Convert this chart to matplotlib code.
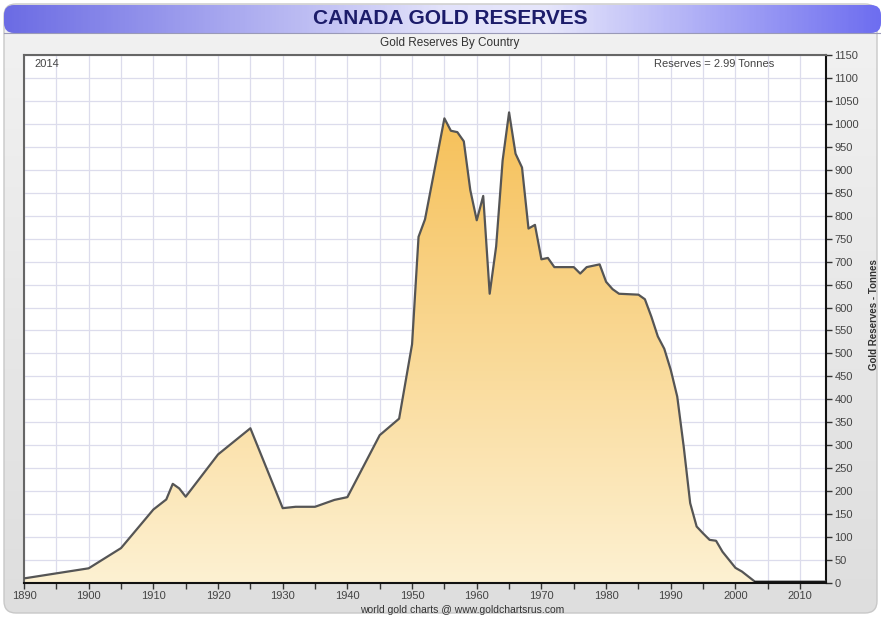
import numpy as np
import matplotlib
matplotlib.use("Agg")
import matplotlib.pyplot as plt
from matplotlib.colors import LinearSegmentedColormap
from matplotlib.patches import FancyBboxPatch, PathPatch

# Canada gold reserves, tonnes
years = [1890, 1900, 1905, 1910, 1912, 1913, 1914, 1915, 1920, 1925,
         1930, 1932, 1935, 1938, 1940, 1945, 1948, 1950, 1951, 1952,
         1955, 1956, 1957, 1958, 1959, 1960, 1961, 1962, 1963, 1964,
         1965, 1966, 1967, 1968, 1969, 1970, 1971, 1972, 1975, 1976,
         1977, 1979, 1980, 1981, 1982, 1985, 1986, 1987, 1988, 1989,
         1990, 1991, 1992, 1993, 1994, 1995, 1996, 1997, 1998, 2000,
         2001, 2002, 2003, 2014]
tonnes = [10, 32, 76, 160, 182, 216, 206, 188, 280, 337,
          163, 166, 166, 181, 187, 322, 358, 520, 754, 792,
          1012, 985, 982, 962, 856, 790, 843, 630, 733, 920,
          1025, 935, 905, 772, 780, 705, 708, 688, 688, 674,
          688, 694, 656, 640, 630, 628, 618, 580, 537, 510,
          464, 406, 297, 174, 123, 108, 94, 92, 68, 33,
          25, 14, 3, 3]

x_ticks = list(range(1890, 2015, 5))
x_labels = [str(y) if y % 10 == 0 else "" for y in x_ticks]
y_ticks = list(range(0, 1151, 50))

FONT = ["Liberation Sans", "DejaVu Sans"]

W, H = 881, 619
fig = plt.figure(figsize=(W / 100, H / 100), dpi=100)
fig.patch.set_facecolor("white")

# background panel + header drawn in pixel coords
bg = fig.add_axes([0, 0, 1, 1], zorder=0)
bg.set_xlim(0, W)
bg.set_ylim(H, 0)
bg.axis("off")

panel = FancyBboxPatch((4, 4), W - 8, H - 10, boxstyle="round,pad=0,rounding_size=12",
                       facecolor="none", edgecolor="#c8c8c8", lw=1)
bg.add_patch(panel)
grey = np.linspace(0, 1, 200).reshape(-1, 1)
grey_cmap = LinearSegmentedColormap.from_list("g", ["#f2f2f2", "#dedede"])
im_bg = bg.imshow(grey, extent=[4, W - 4, H - 6, 4], cmap=grey_cmap, aspect="auto", zorder=0)
im_bg.set_clip_path(panel)

header = FancyBboxPatch((4, 5), W - 4, 28, boxstyle="round,pad=0,rounding_size=10",
                        facecolor="none", edgecolor="none")
bg.add_patch(header)
hx = np.linspace(0, 1, 400).reshape(1, -1)
head_cmap = LinearSegmentedColormap.from_list(
    "h", [(0, "#6c6ce4"), (0.5, "#e2e2fa"), (0.62, "#e6e6fb"), (1, "#6e6ef0")])
im_h = bg.imshow(hx, extent=[4, W, 33, 5], cmap=head_cmap, aspect="auto", zorder=1)
im_h.set_clip_path(header)
bg.plot([4, W], [33, 33], color="#9a9ab8", lw=0.8, zorder=2)

bg.text(450, 19, "CANADA GOLD RESERVES", ha="center", va="center", fontsize=15,
        fontweight="bold", color="#1c1c6a", family=FONT)
bg.text(450, 43, "Gold Reserves By Country", ha="center", va="center", fontsize=8.5,
        color="#333333", family=FONT)
bg.text(462, 610, "world gold charts @ www.goldchartsrus.com", ha="center", va="center",
        fontsize=7.5, color="#333333", family=FONT)
bg.text(874, 315, "Gold Reserves - Tonnes", ha="center", va="center", rotation=90,
        fontsize=7, fontweight="bold", color="#333333", family=FONT)

# main plot
ax = fig.add_axes([24 / W, 1 - 583 / H, (826 - 24) / W, (583 - 55) / H], zorder=1)
ax.set_facecolor("white")
ax.set_xlim(1890, 2014)
ax.set_ylim(0, 1150)

ax.set_xticks(x_ticks)
ax.set_xticklabels(x_labels)
ax.set_yticks(y_ticks)
ax.grid(True, color="#dcdcec", lw=0.9)
ax.set_axisbelow(True)
ax.yaxis.tick_right()
ax.tick_params(axis="both", direction="out", length=4, width=1, color="#333333",
               labelsize=8, labelcolor="#444444", pad=2)
for lab in ax.get_xticklabels() + ax.get_yticklabels():
    lab.set_family(FONT)

for side in ["top", "left"]:
    ax.spines[side].set_color("#666666")
    ax.spines[side].set_linewidth(1.5)
for side in ["bottom", "right"]:
    ax.spines[side].set_color("#111111")
    ax.spines[side].set_linewidth(1.5)

# gradient filled area
fill = ax.fill_between(years, tonnes, 0, facecolor="none", edgecolor="none")
clip = PathPatch(fill.get_paths()[0], transform=ax.transData, facecolor="none", edgecolor="none")
ax.add_patch(clip)
fill_cmap = LinearSegmentedColormap.from_list("f", ["#fdf1d2", "#f6c058"])
gy = np.linspace(0, 1, 256).reshape(-1, 1)
im = ax.imshow(gy, extent=[1890, 2014, 0, max(tonnes)], origin="lower", aspect="auto",
               cmap=fill_cmap, zorder=2)
im.set_clip_path(clip)
ax.plot(years, tonnes, color="#555555", lw=1.6, zorder=3)
ax.plot(years[-2:], tonnes[-2:], color="#111111", lw=2, zorder=3)
ax.set_xlim(1890, 2014)
ax.set_ylim(0, 1150)

ax.text(0.013, 0.983, "2014", transform=ax.transAxes, ha="left", va="center",
        fontsize=8, color="#444444", family=FONT)
ax.text(0.935, 0.983, "Reserves = 2.99 Tonnes", transform=ax.transAxes, ha="right",
        va="center", fontsize=8, color="#444444", family=FONT)

fig.savefig("out.png", dpi=100)
